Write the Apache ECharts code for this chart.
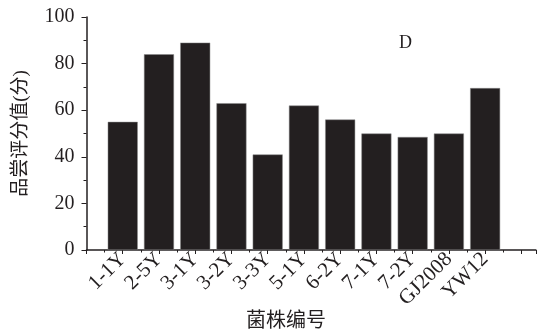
<!DOCTYPE html>
<html><head><meta charset="utf-8">
<script src="https://cdn.jsdelivr.net/npm/echarts@6/dist/echarts.min.js"></script>
<style>html,body{margin:0;padding:0;background:#fff}#c{width:538px;height:333px}</style>
</head><body><div id="c"></div>
<script>
var categories = ['1-1Y','2-5Y','3-1Y','3-2Y','3-3Y','5-1Y','6-2Y','7-1Y','7-2Y','GJ2008','YW12'];
var values = [55, 84, 89, 63, 41, 62, 56, 50, 48.5, 50, 69.5];
var yTicks = [0, 20, 40, 60, 80, 100];
var panelLabel = 'D';
var xName = '菌株编号';
var yName = '品尝评分值(分)';

var serif = '"Liberation Serif","Noto Sans CJK SC",serif';
var chart = echarts.init(document.getElementById('c'), null, {renderer:'canvas'});
var barData = values.map(function(v,i){return [i+1, v];});
chart.setOption({
  animation:false,
  grid:{left:86.5, right:0, top:17, bottom:83, containLabel:false},
  xAxis:{
    type:'value', min:0, max:12.4, interval:1,
    axisLine:{lineStyle:{color:'#231f20', width:1.5}},
    axisTick:{show:true, inside:false, length:4, lineStyle:{color:'#231f20', width:1}},
    minorTick:{show:true, splitNumber:2, length:2.5, lineStyle:{color:'#231f20', width:1}},
    splitLine:{show:false}, minorSplitLine:{show:false},
    axisLabel:{rotate:45, fontFamily:serif, fontSize:21, color:'#231f20', margin:6,
      formatter:function(v){var i=Math.round(v)-1; return (i>=0 && i<categories.length)?categories[i]:'';}}
  },
  yAxis:{
    type:'value', min:0, max:100, interval:20,
    axisLine:{show:true, lineStyle:{color:'#231f20', width:1.5}},
    axisTick:{show:true, inside:false, length:5, lineStyle:{color:'#231f20', width:1}},
    minorTick:{show:true, splitNumber:2, length:3, lineStyle:{color:'#231f20', width:1}},
    splitLine:{show:false},
    axisLabel:{fontFamily:serif, fontSize:20, color:'#231f20', margin:12,
      formatter:function(v){return yTicks.indexOf(v)>=0? String(v):'';}},
    name:yName, nameLocation:'middle', nameGap:56, nameRotate:90,
    nameTextStyle:{fontFamily:serif, fontSize:19, color:'#231f20'}
  },
  series:[{type:'bar', data:barData, barWidth:30,
    itemStyle:{color:'#231f20', borderColor:'#8a8a8a', borderWidth:0.5}}],
  graphic:[
    {type:'text', left:399, top:34, style:{text:panelLabel, font:'18px '+serif, fill:'#231f20'}},
    {type:'text', left:246, top:312, style:{text:xName, font:'20px '+serif, fill:'#231f20'}},
    {type:'text', left:243, top:-16, style:{text:xName, font:'19px '+serif, fill:'#231f20'}}
  ]
});
</script></body></html>
